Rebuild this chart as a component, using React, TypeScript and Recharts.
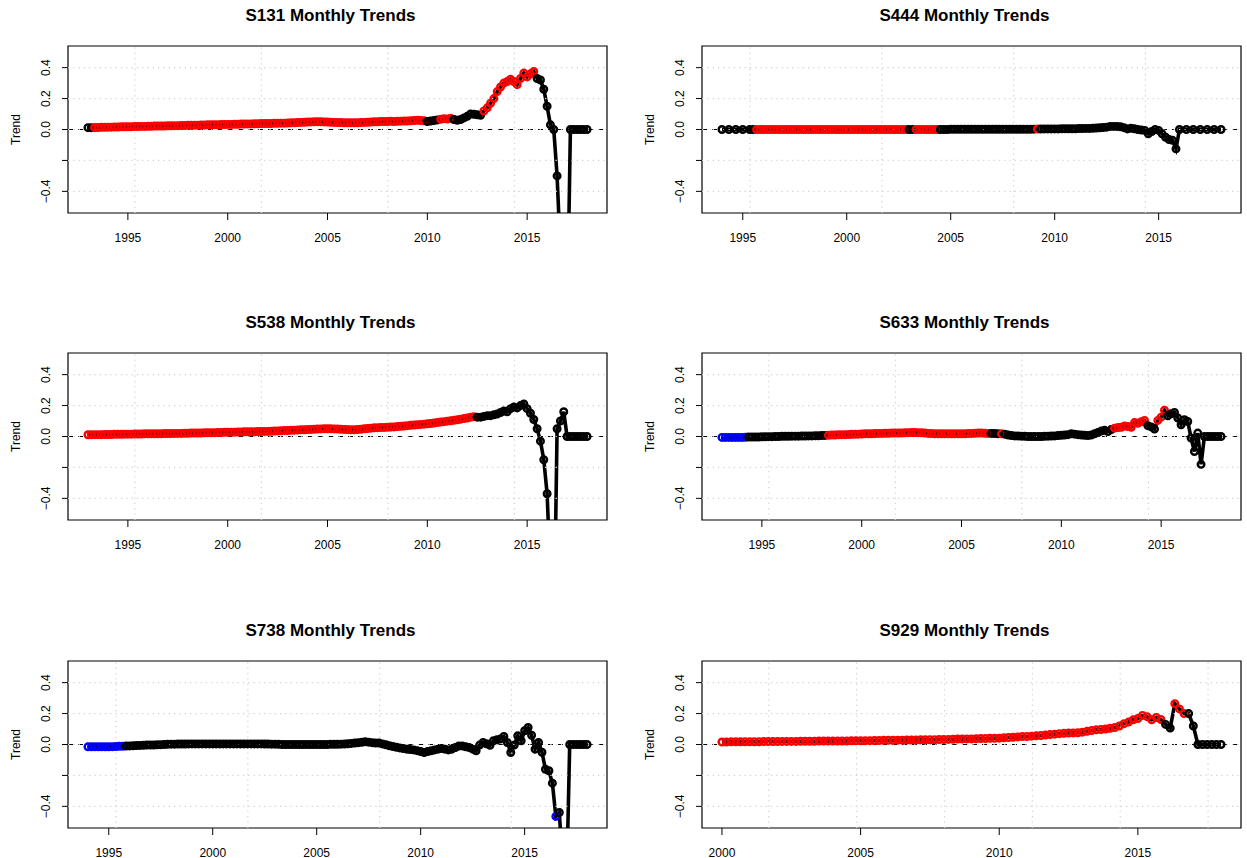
import { ComposedChart, Line, XAxis, YAxis, ReferenceLine, ReferenceArea } from 'recharts';

// bi-monthly trend estimates (6 per year); null = no reading that month
const s131Start = 1993;
const s131Trend = [
  0.012, 0.012, 0.013, 0.013, 0.014, 0.014,
  0.015, 0.015, 0.016, 0.016, 0.017, 0.017,
  0.018, 0.018, 0.019, 0.019, 0.02, 0.02,
  0.021, 0.021, 0.022, 0.022, 0.023, 0.023,
  0.024, 0.024, 0.025, 0.025, 0.026, 0.026,
  0.027, 0.027, 0.028, 0.028, 0.029, 0.029,
  0.03, 0.03, 0.031, 0.031, 0.032, 0.032,
  0.033, 0.033, 0.034, 0.034, 0.035, 0.035,
  0.036, 0.036, 0.037, 0.037, 0.038, 0.038,
  0.039, 0.039, 0.04, 0.04, 0.041, 0.041,
  0.042, 0.043, 0.044, 0.045, 0.046, 0.047,
  0.048, 0.049, 0.05, 0.05, 0.05, 0.049,
  0.048, 0.047, 0.046, 0.045, 0.045, 0.044,
  0.044, 0.043, 0.043, 0.044, 0.045, 0.046,
  0.047, 0.048, 0.05, 0.05, 0.051, 0.052,
  0.052, 0.053, 0.052, 0.053, 0.054, 0.055,
  0.055, 0.056, 0.058, 0.06, 0.058, 0.056,
  0.052, 0.055, 0.058, 0.062, 0.066, 0.07,
  0.068, 0.072, 0.065, 0.06, 0.065, 0.075,
  0.085, 0.1, 0.098, 0.095, 0.092, 0.12,
  0.14, 0.17, 0.2, 0.245, 0.275, 0.3,
  0.31, 0.325, 0.31, 0.29, 0.33, 0.365,
  0.34, 0.36, 0.375, 0.33, 0.32, 0.26,
  0.15, 0.03, 0.0, -0.3, -0.8, -1.1,
  -1.3, 0, 0, 0, 0, 0,
  0,
];
const s131Signif: [number, string][] = [
  [1993, 'ns'], [1993.3, 'pos'], [2009.9, 'ns'], [2010.6, 'pos'], [2011.3, 'ns'], [2012.7, 'pos'], [2015.4, 'ns'],
];

const s444Start = 1994;
const s444Trend = [
  0, null, 0, null, 0, null,
  0, null, 0, 0, 0, 0,
  0, 0, 0, 0, 0, 0,
  0, 0, 0, 0, 0, 0,
  0, 0, 0, 0, 0, 0,
  0, 0, 0, 0, 0, 0,
  0, 0, 0, 0, 0, 0,
  0, 0, 0, 0, 0, 0,
  0, 0, 0, 0, 0, 0,
  0, 0, 0, 0, 0, 0,
  0, 0, 0, 0, 0, 0,
  0.001, 0.001, 0.001, 0.001, 0.001, 0.001,
  0.001, 0.001, 0.001, 0.001, 0.001, 0.001,
  0.001, 0.001, 0.001, 0.001, 0.001, 0.001,
  0.001, 0.001, 0.001, 0.001, 0.001, 0.001,
  0.002, 0.003, 0.003, 0.004, 0.004, 0.004,
  0.004, 0.004, 0.005, 0.005, 0.005, 0.005,
  0.005, 0.006, 0.006, 0.007, 0.007, 0.008,
  0.009, 0.011, 0.013, 0.015, 0.02, 0.02,
  0.02, 0.018, 0.012, 0.004, 0.008, 0.005,
  0, -0.004, -0.006, -0.028, -0.013, 0,
  -0.006, -0.028, -0.05, -0.065, -0.07, -0.125,
  0, null, 0, null, 0, null,
  0, null, 0, null, 0, null,
  0,
];
const s444Signif: [number, string][] = [
  [1994, 'ns'], [1995.6, 'pos'], [2002.85, 'ns'], [2003.2, 'pos'], [2004.4, 'ns'], [2009.1, 'pos'], [2009.2, 'ns'],
];

const s538Start = 1993;
const s538Trend = [
  0.011, 0.011, 0.012, 0.012, 0.012, 0.013,
  0.013, 0.013, 0.014, 0.014, 0.014, 0.015,
  0.015, 0.015, 0.016, 0.016, 0.016, 0.017,
  0.017, 0.017, 0.018, 0.018, 0.018, 0.019,
  0.019, 0.019, 0.02, 0.02, 0.02, 0.021,
  0.021, 0.022, 0.022, 0.023, 0.023, 0.024,
  0.024, 0.025, 0.025, 0.026, 0.026, 0.027,
  0.027, 0.028, 0.028, 0.029, 0.029, 0.03,
  0.03, 0.031, 0.031, 0.032, 0.032, 0.033,
  0.033, 0.034, 0.035, 0.036, 0.037, 0.038,
  0.039, 0.04, 0.041, 0.042, 0.043, 0.044,
  0.045, 0.046, 0.047, 0.048, 0.049, 0.05,
  0.05, 0.05, 0.049, 0.048, 0.047, 0.046,
  0.045, 0.044, 0.044, 0.045, 0.047, 0.05,
  0.052, 0.054, 0.056, 0.057, 0.058, 0.059,
  0.06, 0.061, 0.062, 0.064, 0.066, 0.068,
  0.07, 0.072, 0.074, 0.076, 0.078, 0.08,
  0.082, 0.084, 0.087, 0.09, 0.093, 0.096,
  0.099, 0.102, 0.105, 0.108, 0.112, 0.116,
  0.12, 0.125, 0.128, 0.125, 0.125, 0.13,
  0.135, 0.135, 0.14, 0.145, 0.155, 0.165,
  0.16, 0.18, 0.19, 0.185, 0.2, 0.21,
  0.18, 0.15, 0.11, 0.05, -0.03, -0.15,
  -0.37, -0.9, -1.4, 0.05, 0.1, 0.16,
  0, 0, 0, 0, 0, 0,
  0,
];
const s538Signif: [number, string][] = [[1993, 'pos'], [2012.35, 'ns']];

const s633Start = 1993;
const s633Trend = [
  -0.006, -0.006, -0.006, -0.006, -0.006, -0.006,
  -0.006, -0.005, -0.004, -0.004, -0.003, -0.003,
  -0.002, -0.002, -0.001, -0.001, 0, 0,
  0.001, 0.001, 0.001, 0.002, 0.002, 0.002,
  0.003, 0.003, 0.004, 0.004, 0.005, 0.005,
  0.006, 0.007, 0.008, 0.009, 0.01, 0.011,
  0.012, 0.012, 0.013, 0.014, 0.014, 0.015,
  0.016, 0.017, 0.017, 0.018, 0.019, 0.02,
  0.02, 0.021, 0.021, 0.022, 0.022, 0.022,
  0.023, 0.024, 0.025, 0.026, 0.026, 0.025,
  0.024, 0.022, 0.02, 0.019, 0.018, 0.018,
  0.017, 0.017, 0.017, 0.017, 0.017, 0.017,
  0.017, 0.018, 0.019, 0.02, 0.021, 0.022,
  0.022, 0.021, 0.02, 0.02, 0.019, 0.018,
  0.017, 0.015, 0.01, 0.006, 0.004, 0.003,
  0.002, 0.001, 0, 0, 0, 0,
  0, 0.001, 0.002, 0.003, 0.004, 0.006,
  0.008, 0.01, 0.012, 0.017, 0.015, 0.012,
  0.01, 0.008, 0.006, 0.01, 0.018, 0.026,
  0.035, 0.04, 0.032, 0.045, 0.054, 0.058,
  0.06, 0.068, 0.065, 0.06, 0.09, 0.086,
  0.095, 0.104, 0.07, 0.062, 0.048, 0.104,
  0.125, 0.17, 0.134, 0.147, 0.156, 0.12,
  0.076, 0.108, 0.097, -0.01, -0.097, 0.022,
  -0.18, 0, 0, 0, 0, 0,
  0,
];
const s633Signif: [number, string][] = [
  [1993, 'neg'], [1994.2, 'ns'], [1998.2, 'pos'], [2006.4, 'ns'], [2006.95, 'pos'], [2007.1, 'ns'],
  [2012.65, 'pos'], [2014.3, 'ns'], [2014.75, 'pos'], [2015.3, 'ns'],
];

const s738Start = 1994;
const s738Trend = [
  -0.015, -0.015, -0.015, -0.015, -0.015, -0.015,
  -0.015, -0.014, -0.013, -0.012, -0.011, -0.01,
  -0.009, -0.008, -0.007, -0.006, -0.005, -0.004,
  -0.004, -0.003, -0.002, -0.001, 0, 0.001,
  0.002, 0.002, 0.003, 0.003, 0.003, 0.004,
  0.004, 0.004, 0.004, 0.004, 0.004, 0.004,
  0.004, 0.004, 0.004, 0.004, 0.004, 0.004,
  0.004, 0.004, 0.004, 0.004, 0.004, 0.004,
  0.004, 0.004, 0.004, 0.003, 0.003, 0.002,
  0.002, 0.001, 0, 0, 0, 0,
  0, 0, 0, 0, 0, 0,
  0, 0, 0, 0, 0.001, 0.001,
  0.001, 0.002, 0.003, 0.005, 0.007, 0.01,
  0.012, 0.014, 0.017, 0.015, 0.012, 0.01,
  0.009, 0.004, -0.002, -0.008, -0.013, -0.018,
  -0.022, -0.026, -0.03, -0.033, -0.035, -0.04,
  -0.045, -0.052, -0.045, -0.041, -0.035, -0.03,
  -0.026, -0.03, -0.035, -0.03, -0.02, -0.01,
  -0.009, -0.015, -0.02, -0.03, -0.041, -0.004,
  0.013, 0.005, -0.005, 0.024, 0.03, 0.035,
  0.052, 0.013, -0.052, -0.004, 0.056, 0.024,
  0.089, 0.11, 0.06, -0.03, 0.013, -0.05,
  -0.16, -0.17, -0.25, -0.465, -0.44, -0.8,
  -1.0, 0, 0, 0, 0, 0,
  0,
];
const s738Signif: [number, string][] = [[1994, 'neg'], [1995.7, 'ns'], [2016.45, 'neg'], [2016.6, 'ns']];

const s929Start = 2000;
const s929Trend = [
  0.016, 0.016, 0.017, 0.017, 0.017, 0.018,
  0.018, 0.018, 0.018, 0.019, 0.019, 0.019,
  0.019, 0.02, 0.02, 0.02, 0.02, 0.021,
  0.021, 0.021, 0.021, 0.022, 0.022, 0.022,
  0.022, 0.023, 0.023, 0.023, 0.024, 0.024,
  0.024, 0.025, 0.025, 0.026, 0.026, 0.027,
  0.027, 0.027, 0.028, 0.028, 0.029, 0.029,
  0.029, 0.03, 0.03, 0.031, 0.031, 0.032,
  0.032, 0.033, 0.034, 0.035, 0.035, 0.036,
  0.036, 0.037, 0.038, 0.039, 0.04, 0.04,
  0.041, 0.043, 0.045, 0.047, 0.049, 0.051,
  0.052, 0.054, 0.056, 0.058, 0.061, 0.064,
  0.067, 0.07, 0.072, 0.074, 0.075, 0.076,
  0.08, 0.085, 0.09, 0.095, 0.097, 0.1,
  0.105, 0.11, 0.12, 0.135, 0.145, 0.16,
  0.168, 0.188, 0.18, 0.16, 0.175, 0.162,
  0.13, 0.106, 0.264, 0.23, 0.2, 0.2,
  0.12, 0, 0, 0, 0, 0,
  0,
];
const s929Signif: [number, string][] = [[2000, 'pos'], [2015.9, 'ns'], [2016.25, 'pos'], [2016.75, 'ns']];

// grid() on a POSIXct axis lands on round second counts
const gridSecondsWide = [8e8, 1e9, 1.2e9, 1.4e9];
const gridSecondsNarrow = [1e9, 1.1e9, 1.2e9, 1.3e9, 1.4e9, 1.5e9];
const yTicks = [-0.4, -0.2, 0, 0.2, 0.4];
const yLabels = ['\u22120.4', '', '0.0', '0.2', '0.4'];

const COLORS: Record<string, string> = { pos: '#FF0000', ns: '#000000', neg: '#0000FF' };
const FONT = '"Liberation Sans", Arial, Helvetica, sans-serif';
const Y_DOMAIN: [number, number] = [-0.54, 0.54];

const toYear = (s: number) => 1970 + s / (86400 * 365.2425);

function buildData(start: number, trend: (number | null)[], signif: [number, string][]) {
  return trend.map((v, i) => {
    const year = start + i / 6;
    let cat = signif[0][1];
    for (const [from, c] of signif) if (year >= from - 1e-6) cat = c;
    return { year, trend: v, cat };
  });
}

const panels = [
  { title: 'S131 Monthly Trends', data: buildData(s131Start, s131Trend, s131Signif), grid: gridSecondsWide },
  { title: 'S444 Monthly Trends', data: buildData(s444Start, s444Trend, s444Signif), grid: gridSecondsWide },
  { title: 'S538 Monthly Trends', data: buildData(s538Start, s538Trend, s538Signif), grid: gridSecondsWide },
  { title: 'S633 Monthly Trends', data: buildData(s633Start, s633Trend, s633Signif), grid: gridSecondsWide },
  { title: 'S738 Monthly Trends', data: buildData(s738Start, s738Trend, s738Signif), grid: gridSecondsWide },
  { title: 'S929 Monthly Trends', data: buildData(s929Start, s929Trend, s929Signif), grid: gridSecondsNarrow },
];

const COL_LEFT = [0, 634];
const ROW_TOP = [0, 307.2, 614.5];
const CHART_W = 612;
const CHART_H = 262;
const BOX_LEFT = 68;
const BOX_TOP = 46;
const BOX_W = 539;
const BOX_H = 167;

function YTick(props: any) {
  const { x, y, payload } = props;
  const idx = yTicks.indexOf(payload.value);
  const label = idx >= 0 ? yLabels[idx] : '';
  return (
    <text x={x} y={y} transform={`rotate(-90 ${x} ${y})`} textAnchor="middle" fontSize={12} fontFamily={FONT} fill="#000">
      {label}
    </text>
  );
}

function TrendLabel(props: any) {
  const vb = props.viewBox || { x: 0, y: BOX_TOP, height: BOX_H };
  const x = vb.x + 19.5;
  const y = vb.y + vb.height / 2;
  return (
    <text x={x} y={y} transform={`rotate(-90 ${x} ${y})`} textAnchor="middle" fontSize={12} fontFamily={FONT} fill="#000">
      Trend
    </text>
  );
}

function Dot(props: any) {
  const { cx, cy, payload, index } = props;
  if (cx == null || cy == null || payload.trend == null) return <g key={index} />;
  return <circle key={index} cx={cx} cy={cy} r={3.3} fill="none" stroke={COLORS[payload.cat]} strokeWidth={2.4} />;
}

function Panel({ title, data, grid }: { title: string; data: any[]; grid: number[] }) {
  const years = data.map((d) => d.year);
  const lo = Math.min(...years);
  const hi = Math.max(...years);
  const pad = (hi - lo) * 0.04;
  const xDomain: [number, number] = [lo - pad, hi + pad];
  const xTicks = [1995, 2000, 2005, 2010, 2015].filter((t) => t >= xDomain[0] && t <= xDomain[1]);
  return (
    <div style={{ position: 'relative', width: CHART_W, height: CHART_H }}>
      <div
        style={{
          position: 'absolute', left: BOX_LEFT - 7, width: BOX_W, top: 6, textAlign: 'center',
          fontFamily: FONT, fontWeight: 'bold', fontSize: 17, lineHeight: '20px', color: '#000',
        }}
      >
        {title}
      </div>
      <ComposedChart
        width={CHART_W}
        height={CHART_H}
        data={data}
        margin={{ top: BOX_TOP, right: CHART_W - BOX_LEFT - BOX_W, bottom: 0, left: 0 }}
      >
        <XAxis
          dataKey="year"
          type="number"
          domain={xDomain}
          allowDataOverflow
          ticks={xTicks}
          interval={0}
          height={CHART_H - BOX_TOP - BOX_H}
          axisLine={false}
          tickLine={{ stroke: '#000' }}
          tickSize={7}
          tickMargin={13}
          tick={{ fill: '#000', fontSize: 12, fontFamily: FONT }}
        />
        <YAxis
          type="number"
          domain={Y_DOMAIN}
          allowDataOverflow
          ticks={yTicks}
          interval={0}
          width={BOX_LEFT}
          axisLine={false}
          tickLine={{ stroke: '#000' }}
          tickSize={6}
          tickMargin={12}
          tick={<YTick />}
          label={<TrendLabel />}
        />
        <Line
          dataKey="trend"
          type="linear"
          stroke="#000"
          strokeWidth={3.6}
          dot={Dot}
          activeDot={false}
          connectNulls
          isAnimationActive={false}
        />
        <ReferenceLine y={0} stroke="#000" strokeWidth={1.2} strokeDasharray="5 5" />
        {yTicks.map((t) => (
          <ReferenceLine key={'h' + t} y={t} stroke="#d3d3d3" strokeWidth={1.2} strokeDasharray="1.3 4" />
        ))}
        {grid.map((s) => (
          <ReferenceLine key={'v' + s} x={toYear(s)} stroke="#d3d3d3" strokeWidth={1.2} strokeDasharray="1.3 4" />
        ))}
        <ReferenceArea x1={xDomain[0]} x2={xDomain[1]} y1={Y_DOMAIN[0]} y2={Y_DOMAIN[1]} fill="none" stroke="#000" strokeWidth={1.2} ifOverflow="visible" />
      </ComposedChart>
    </div>
  );
}

export default function App() {
  return (
    <div style={{ position: 'absolute', left: 0, top: 0, width: 1247, height: 858, overflow: 'hidden', background: '#fff' }}>
      {panels.map((p, i) => (
        <div key={p.title} style={{ position: 'absolute', left: COL_LEFT[i % 2], top: ROW_TOP[Math.floor(i / 2)] }}>
          <Panel title={p.title} data={p.data} grid={p.grid} />
        </div>
      ))}
    </div>
  );
}
